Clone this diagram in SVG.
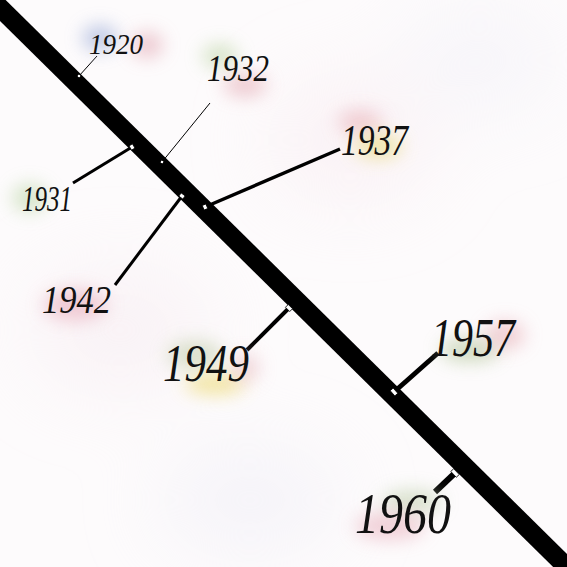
<svg xmlns="http://www.w3.org/2000/svg" width="567" height="567" viewBox="0 0 567 567">
<defs>
<filter id="blur" x="-100%" y="-100%" width="300%" height="300%"><feGaussianBlur stdDeviation="9"/></filter>
<filter id="blurBig" x="-100%" y="-100%" width="300%" height="300%"><feGaussianBlur stdDeviation="40"/></filter>
<style>
.lbl{font-family:"Liberation Serif","DejaVu Serif",serif;font-style:italic;fill:#111;}
.conn{stroke:#000;stroke-linecap:butt;fill:none;}
.tick{fill:#fff;stroke:#000;stroke-width:0.8;}
.glow{filter:url(#blur);}
</style>
</defs>
<rect width="567" height="567" fill="#fdfbfc"/>
<g id="background" filter="url(#blurBig)" opacity="0.5">
<ellipse cx="350" cy="140" rx="80" ry="60" fill="#f7e8ee"/>
<ellipse cx="120" cy="330" rx="90" ry="60" fill="#f5e9ef"/>
<ellipse cx="250" cy="500" rx="90" ry="50" fill="#ecebf5"/>
<ellipse cx="480" cy="60" rx="80" ry="50" fill="#f0eff7"/>
</g>
<g id="timeline">
<line x1="-20" y1="-12" x2="590" y2="590" stroke="#000" stroke-width="19"/>
</g>
<g id="connectors">
<line class="conn" x1="79" y1="76" x2="97" y2="56" stroke-width="1"/>
<line class="conn" x1="162" y1="162" x2="210" y2="103" stroke-width="1"/>
<line class="conn" x1="132" y1="147" x2="73" y2="183" stroke-width="3"/>
<line class="conn" x1="205" y1="207" x2="340" y2="149" stroke-width="3.5"/>
<line class="conn" x1="182" y1="196" x2="115" y2="285" stroke-width="3"/>
<line class="conn" x1="289" y1="308" x2="247" y2="350" stroke-width="4"/>
<line class="conn" x1="394" y1="392" x2="438" y2="353" stroke-width="5"/>
<line class="conn" x1="455" y1="473" x2="435" y2="492" stroke-width="6"/>
<rect class="tick" x="-1.5" y="-1.5" width="3" height="3" transform="translate(79 76) rotate(-47.7)"/>
<rect class="tick" x="-1.5" y="-1.5" width="3" height="3" transform="translate(162 162) rotate(-51.3)"/>
<rect class="tick" x="-2" y="-2.5" width="4" height="5" transform="translate(132 147) rotate(148.6)"/>
<rect class="tick" x="-2" y="-2.5" width="4" height="5" transform="translate(205 207) rotate(-23.6)"/>
<rect class="tick" x="-2" y="-2.5" width="4" height="5" transform="translate(182 196) rotate(127)"/>
<rect class="tick" x="-2" y="-3" width="4" height="6" transform="translate(289 308) rotate(135)"/>
<rect class="tick" x="-2" y="-3.5" width="4" height="7" transform="translate(394 392) rotate(-41.6)"/>
<rect class="tick" x="-2" y="-4" width="4" height="8" transform="translate(455 473) rotate(136.5)"/>
</g>
<g id="n1920">
<ellipse class="glow" cx="100" cy="38" rx="18" ry="13" fill="#a9b6dc" opacity="0.7"/>
<ellipse class="glow" cx="147" cy="45" rx="16" ry="13" fill="#e6b4be" opacity="0.7"/>
<text class="lbl" x="89" y="54" font-size="30" textLength="54" lengthAdjust="spacingAndGlyphs">1920</text>
</g>
<g id="n1931">
<ellipse class="glow" cx="30" cy="198" rx="18" ry="14" fill="#c6dcb4" opacity="0.7"/>
<text class="lbl" x="22" y="211" font-size="36" textLength="50" lengthAdjust="spacingAndGlyphs">1931</text>
</g>
<g id="n1932">
<ellipse class="glow" cx="220" cy="56" rx="18" ry="12" fill="#c8dcb4" opacity="0.7"/>
<ellipse class="glow" cx="245" cy="85" rx="22" ry="12" fill="#e8b8c0" opacity="0.7"/>
<text class="lbl" x="207" y="81" font-size="38" textLength="62" lengthAdjust="spacingAndGlyphs">1932</text>
</g>
<g id="n1937">
<ellipse class="glow" cx="360" cy="122" rx="22" ry="12" fill="#ecbcc2" opacity="0.7"/>
<ellipse class="glow" cx="378" cy="146" rx="24" ry="12" fill="#ebe094" opacity="0.8"/>
<text class="lbl" x="341" y="155" font-size="44" textLength="67" lengthAdjust="spacingAndGlyphs">1937</text>
</g>
<g id="n1942">
<ellipse class="glow" cx="75" cy="305" rx="32" ry="16" fill="#ecbcc8" opacity="0.75"/>
<text class="lbl" x="42" y="313" font-size="40" textLength="69" lengthAdjust="spacingAndGlyphs">1942</text>
</g>
<g id="n1949">
<ellipse class="glow" cx="195" cy="355" rx="28" ry="14" fill="#ccd6b8" opacity="0.7"/>
<ellipse class="glow" cx="215" cy="384" rx="30" ry="10" fill="#f0e08c" opacity="0.85"/>
<ellipse class="glow" cx="245" cy="368" rx="14" ry="14" fill="#e8bcc2" opacity="0.6"/>
<text class="lbl" x="163" y="381" font-size="52" textLength="86" lengthAdjust="spacingAndGlyphs">1949</text>
</g>
<g id="n1957">
<ellipse class="glow" cx="470" cy="350" rx="30" ry="12" fill="#c4d2b0" opacity="0.8"/>
<ellipse class="glow" cx="505" cy="335" rx="20" ry="14" fill="#ecbcc2" opacity="0.7"/>
<text class="lbl" x="431" y="356" font-size="54" textLength="84" lengthAdjust="spacingAndGlyphs">1957</text>
</g>
<g id="n1960">
<ellipse class="glow" cx="412" cy="502" rx="30" ry="12" fill="#c8d6b8" opacity="0.7"/>
<ellipse class="glow" cx="390" cy="526" rx="35" ry="14" fill="#ecbec8" opacity="0.7"/>
<text class="lbl" x="355" y="533" font-size="56" textLength="96" lengthAdjust="spacingAndGlyphs">1960</text>
</g>
</svg>
